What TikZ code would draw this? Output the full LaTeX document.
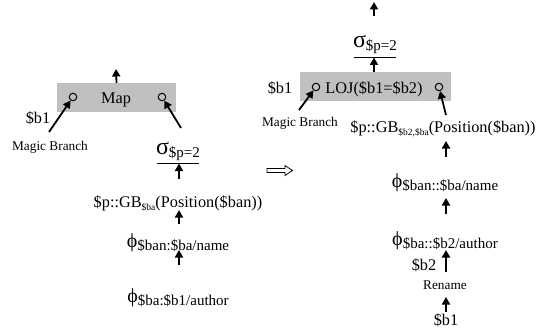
\documentclass[tikz,border=0pt]{standalone}
\usepackage{fontspec}
\setmainfont{Liberation Serif}
\usetikzlibrary{arrows.meta}
\definecolor{boxgray}{RGB}{192,192,192}
\newcommand{\bigsig}{{\fontsize{24}{24}\selectfont σ}}
\newcommand{\bigphi}{{\fontsize{20}{20}\selectfont ϕ}}
\newcommand{\lsub}[1]{\raisebox{-3pt}{\fontsize{15}{15}\selectfont #1}}
\newcommand{\tsub}[1]{\raisebox{-3pt}{\fontsize{9.5}{9.5}\selectfont #1}}
\tikzset{
  arr/.style={line width=1.8pt, -{Triangle[length=7.5pt,width=8pt]}},
  lbl/.style={font=\fontsize{16.3}{16.3}\selectfont, inner sep=0pt, anchor=base},
  sml/.style={font=\fontsize{13.3}{13.3}\selectfont, inner sep=0pt, anchor=base},
  gbox/.style={fill=boxgray, draw=none, minimum height=29pt, inner sep=0pt},
  port/.style={circle, draw, line width=1pt, minimum size=7.5pt, inner sep=0pt},
  uline/.style={line width=0.9pt}
}
\begin{document}
\begin{tikzpicture}[x=1pt,y=-1pt]
\useasboundingbox (0,0) rectangle (536,329);
% ---------- left tree ----------
\node[gbox, minimum width=119pt] (mapbox) at (116.5,97.5) {};
\node[lbl] (map) at (116,103) {Map};
\node[port] (pL1) at (73,97) {};
\node[port] (pL2) at (162,97) {};
\coordinate (outL) at (116,69);
\draw[arr] (mapbox.north) -- (outL);
\node[lbl] (b1L) at (38,124) {\$b1};
\node[sml] (mbL) at (50,150) {Magic Branch};
\coordinate (mbLs) at (49,132);
\draw[arr] (mbLs) -- (pL1);
\coordinate (sLs) at (181,128);
\draw[arr] (sLs) -- (pL2);
\node[lbl] (sigL) at (178,154) {\bigsig\lsub{\$p=2}};
\coordinate (ulLa) at (157,163);
\coordinate (ulLb) at (199,163);
\draw[uline] (ulLa) -- (ulLb);
\node[lbl] (gbL) at (178,207) {\$p::GB\tsub{\$ba}(Position(\$ban))};
\coordinate (aL1t) at (179,179);
\coordinate (aL1h) at (179,163.5);
\draw[arr] (aL1t) -- (aL1h);
\node[lbl] (phL1) at (178,247) {\bigphi\lsub{\$ban:\$ba/name}};
\coordinate (aL2t) at (179,224);
\coordinate (aL2h) at (179,210);
\draw[arr] (aL2t) -- (aL2h);
\node[lbl] (phL2) at (178,302) {\bigphi\lsub{\$ba:\$b1/author}};
\coordinate (aL3t) at (179,265);
\coordinate (aL3h) at (179,250);
\draw[arr] (aL3t) -- (aL3h);
% ---------- transformation arrow ----------
\draw[line width=0.8pt, fill=white] (267,168.5) -- (285,168.5) -- (285,165.5) -- (292.5,170.5) -- (285,175.5) -- (285,172.5) -- (267,172.5) -- cycle;
% ---------- right tree ----------
\coordinate (outR) at (374,2);
\coordinate (outRt) at (374,16);
\draw[arr] (outRt) -- (outR);
\node[lbl] (sigR) at (375,48) {\bigsig\lsub{\$p=2}};
\coordinate (ulRa) at (354,57);
\coordinate (ulRb) at (396,57);
\draw[uline] (ulRa) -- (ulRb);
\node[gbox, minimum width=151pt] (lojbox) at (375.5,86.5) {};
\coordinate (aR0h) at (374,57.5);
\draw[arr] (lojbox.north -| aR0h) -- (aR0h);
\node[lbl] (loj) at (374,93) {LOJ(\$b1=\$b2)};
\node[port] (pR1) at (316,87) {};
\node[port] (pR2) at (439,87) {};
\node[lbl] (b1R) at (280,93) {\$b1};
\node[sml] (mbR) at (300,126) {Magic Branch};
\coordinate (mbRs) at (299,110);
\draw[arr] (mbRs) -- (pR1);
\coordinate (gbRs) at (446,115);
\draw[arr] (gbRs) -- (pR2);
\node[lbl] (gbR) at (443,132) {\$p::GB\tsub{\$b2,\$ba}(Position(\$ban))};
\coordinate (aR1t) at (446,157);
\coordinate (aR1h) at (446,141);
\draw[arr] (aR1t) -- (aR1h);
\node[lbl] (phR1) at (445,187) {\bigphi\lsub{\$ban::\$ba/name}};
\coordinate (aR2t) at (446,214);
\coordinate (aR2h) at (446,198);
\draw[arr] (aR2t) -- (aR2h);
\node[lbl] (phR2) at (445,245) {\bigphi\lsub{\$ba::\$b2/author}};
\node[lbl] (b2R) at (424,270) {\$b2};
\coordinate (aR3t) at (446,272);
\coordinate (aR3h) at (446,250);
\draw[arr] (aR3t) -- (aR3h);
\node[sml] (ren) at (445,289) {Rename};
\coordinate (aR4t) at (446,312);
\coordinate (aR4h) at (446,297);
\draw[arr] (aR4t) -- (aR4h);
\node[lbl] (b1R2) at (446,325) {\$b1};
\end{tikzpicture}
\end{document}
